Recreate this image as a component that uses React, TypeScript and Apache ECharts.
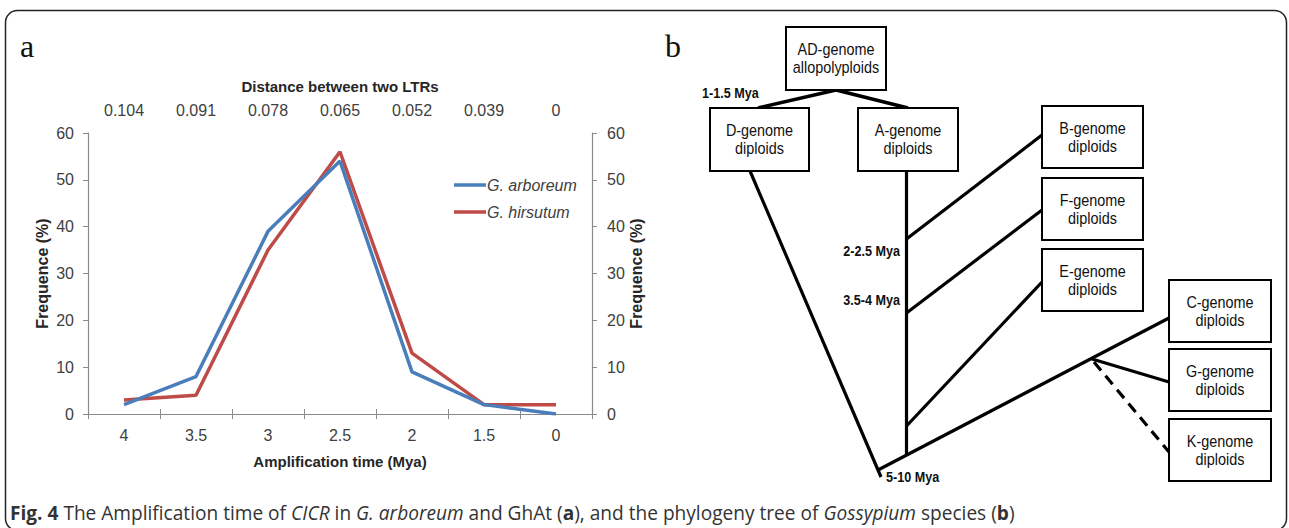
import React, { useEffect, useRef } from "react";
import * as echarts from "echarts";

const amplificationTime = ["4", "3.5", "3", "2.5", "2", "1.5", "0"];
const ltrDistance = ["0.104", "0.091", "0.078", "0.065", "0.052", "0.039", "0"];
const arboreum = [2, 8, 39, 54, 9, 2, 0];
const hirsutum = [3, 4, 35, 56, 13, 2, 2];
const seriesNames = ["G. arboreum", "G. hirsutum"];
const seriesColors = ["#4a7ebb", "#be4b48"];

// phylogeny tree nodes (label lines) and their layout
const treeNodes = [
  { id: "AD", lines: ["AD-genome", "allopolyploids"] },
  { id: "D", lines: ["D-genome", "diploids"] },
  { id: "A", lines: ["A-genome", "diploids"] },
  { id: "B", lines: ["B-genome", "diploids"] },
  { id: "F", lines: ["F-genome", "diploids"] },
  { id: "E", lines: ["E-genome", "diploids"] },
  { id: "C", lines: ["C-genome", "diploids"] },
  { id: "G", lines: ["G-genome", "diploids"] },
  { id: "K", lines: ["K-genome", "diploids"] },
];
const divergenceLabels = ["1-1.5 Mya", "2-2.5 Mya", "3.5-4 Mya", "5-10 Mya"];

const boxLayout: Record<string, [number, number, number, number]> = {
  AD: [786, 27, 100, 63],
  D: [710, 108, 99, 63],
  A: [858, 108, 100, 63],
  B: [1042, 106, 101, 62],
  F: [1042, 178, 101, 62],
  E: [1042, 249, 101, 62],
  C: [1169, 280, 102, 62],
  G: [1169, 349, 102, 62],
  K: [1169, 419, 102, 62],
};
const branchLayout: { p: number[]; dashed?: boolean; w?: number }[] = [
  { p: [836, 90, 758, 108], w: 3.5 },
  { p: [836, 90, 908, 108], w: 3.5 },
  { p: [750, 171, 881, 477] },
  { p: [906.5, 171, 906.5, 456] },
  { p: [906.5, 239, 1042, 135] },
  { p: [906.5, 313, 1042, 210] },
  { p: [906.5, 426, 1042, 282] },
  { p: [878, 470, 1169, 318] },
  { p: [1092, 359, 1169, 382] },
  { p: [1094, 362, 1169, 452], dashed: true },
];
const divergenceLayout: [number, number, string][] = [
  [702, 93, "left"],
  [900, 251, "right"],
  [900, 300, "right"],
  [886, 477, "left"],
];

const AXIS_FONT = "'Liberation Sans', Arial, sans-serif";
const NARROW = 0.9;

export default function App() {
  const ref = useRef<HTMLDivElement>(null);
  useEffect(() => {
    if (!ref.current) return;
    const chart = echarts.init(ref.current, undefined, { renderer: "svg" });
    const axisLine = { lineStyle: { color: "#8a8a8a", width: 1.2 } };
    const axisLabel = { color: "#404040", fontSize: 16, fontFamily: AXIS_FONT };
    const nameStyle = { color: "#262626", fontSize: 15, fontWeight: "bold" as const, fontFamily: AXIS_FONT };

    const graphics: any[] = [];
    graphics.push({
      type: "rect",
      shape: { x: 5.5, y: 10.5, width: 1281, height: 520, r: 12 },
      style: { fill: "none", stroke: "#222", lineWidth: 1.5 },
      silent: true,
    });
    graphics.push({
      type: "text",
      x: 20,
      y: 46,
      style: { text: "a", fontSize: 32, fontFamily: "'Liberation Serif', 'Times New Roman', serif", fill: "#111", textVerticalAlign: "middle" },
    });
    graphics.push({
      type: "text",
      x: 665,
      y: 46,
      style: { text: "b", fontSize: 32, fontFamily: "'Liberation Serif', 'Times New Roman', serif", fill: "#111", textVerticalAlign: "middle" },
    });
    branchLayout.forEach((b) => {
      graphics.push({
        type: "line",
        shape: { x1: b.p[0], y1: b.p[1], x2: b.p[2], y2: b.p[3] },
        style: { stroke: "#000", lineWidth: b.w || 3.2, lineDash: b.dashed ? [11, 7] : null, lineCap: "butt" },
      });
    });
    treeNodes.forEach((n) => {
      const [x, y, w, h] = boxLayout[n.id];
      graphics.push({
        type: "rect",
        shape: { x, y, width: w, height: h },
        style: { fill: "#fff", stroke: "#000", lineWidth: 2 },
      });
      graphics.push({
        type: "text",
        x: x + w / 2,
        y: y + h / 2,
        scaleX: NARROW,
        style: {
          text: n.lines.join("\n"),
          fontSize: 16,
          lineHeight: 18,
          fontFamily: AXIS_FONT,
          fill: "#111",
          textAlign: "center",
          textVerticalAlign: "middle",
        },
      });
    });
    divergenceLabels.forEach((t, i) => {
      const [x, y, align] = divergenceLayout[i];
      graphics.push({
        type: "text",
        x,
        y,
        scaleX: NARROW,
        style: { text: t, fontSize: 14, fontWeight: "bold", fontFamily: AXIS_FONT, fill: "#111", textAlign: align, textVerticalAlign: "middle" },
      });
    });
    graphics.push({
      type: "text",
      x: 10,
      y: 512,
      scaleX: 0.955,
      style: {
        text: "{b|Fig. 4} The Amplification time of {i|CICR} in {i|G. arboreum} and GhAt ({b|a}), and the phylogeny tree of {i|Gossypium} species ({b|b})",
        fontSize: 20,
        fontFamily: "'Open Sans', sans-serif",
        fill: "#333",
        textVerticalAlign: "middle",
        rich: {
          b: { fontWeight: "bold", fontSize: 20, fontFamily: "'Open Sans', sans-serif", fill: "#333" },
          i: { fontStyle: "italic", fontSize: 20, fontFamily: "'Open Sans', sans-serif", fill: "#333" },
        },
      },
    });

    chart.setOption({
      animation: false,
      backgroundColor: "#fff",
      grid: { left: 88, right: 697, top: 133, bottom: 114, containLabel: false },
      legend: {
        orient: "vertical",
        left: 449,
        top: 172,
        itemGap: 11,
        itemWidth: 32,
        itemHeight: 3.5,
        icon: "rect",
        data: seriesNames,
        textStyle: { fontSize: 16, fontStyle: "italic", color: "#404040", fontFamily: AXIS_FONT, padding: [0, 0, 0, -4] },
      },
      xAxis: [
        {
          type: "category",
          position: "bottom",
          data: amplificationTime,
          boundaryGap: true,
          axisLine,
          axisTick: { show: true, length: 5, alignWithLabel: false, lineStyle: { color: "#8a8a8a" } },
          axisLabel: { ...axisLabel, margin: 13 },
          name: "Amplification time (Mya)",
          nameLocation: "middle",
          nameGap: 40,
          nameTextStyle: nameStyle,
        },
        {
          type: "category",
          position: "top",
          data: ltrDistance,
          boundaryGap: true,
          axisLine,
          axisTick: { show: true, length: 5, alignWithLabel: false, lineStyle: { color: "#8a8a8a" } },
          axisLabel: { ...axisLabel, margin: 15 },
          name: "Distance between two LTRs",
          nameLocation: "middle",
          nameGap: 39,
          nameTextStyle: nameStyle,
        },
      ],
      yAxis: [
        {
          type: "value",
          position: "left",
          min: 0,
          max: 60,
          interval: 10,
          axisLine: { show: true, ...axisLine },
          axisTick: { show: true, length: 5, lineStyle: { color: "#8a8a8a" } },
          splitLine: { show: false },
          axisLabel: { ...axisLabel, margin: 14 },
          name: "Frequence (%)",
          nameLocation: "middle",
          nameRotate: 90,
          nameGap: 38,
          nameTextStyle: { ...nameStyle, fontSize: 16 },
        },
        {
          type: "value",
          position: "right",
          min: 0,
          max: 60,
          interval: 10,
          axisLine: { show: true, ...axisLine },
          axisTick: { show: true, length: 5, lineStyle: { color: "#8a8a8a" } },
          splitLine: { show: false },
          axisLabel: { ...axisLabel, margin: 15 },
          name: "Frequence (%)",
          nameLocation: "middle",
          nameRotate: 90,
          nameGap: 36,
          nameTextStyle: { ...nameStyle, fontSize: 16 },
        },
      ],
      series: [
        {
          name: seriesNames[0],
          type: "line",
          data: arboreum,
          xAxisIndex: 0,
          yAxisIndex: 0,
          showSymbol: false,
          symbol: "none",
          lineStyle: { color: seriesColors[0], width: 3.5 },
          itemStyle: { color: seriesColors[0] },
          z: 3,
        },
        {
          name: seriesNames[1],
          type: "line",
          data: hirsutum,
          xAxisIndex: 0,
          yAxisIndex: 0,
          showSymbol: false,
          symbol: "none",
          lineStyle: { color: seriesColors[1], width: 3.5 },
          itemStyle: { color: seriesColors[1] },
          z: 2,
        },
      ],
      graphic: graphics,
    });
    return () => chart.dispose();
  }, []);
  return (
    <div
      ref={ref}
      style={{ position: "fixed", left: 0, top: 0, width: 1289, height: 528, background: "#fff" }}
    />
  );
}
